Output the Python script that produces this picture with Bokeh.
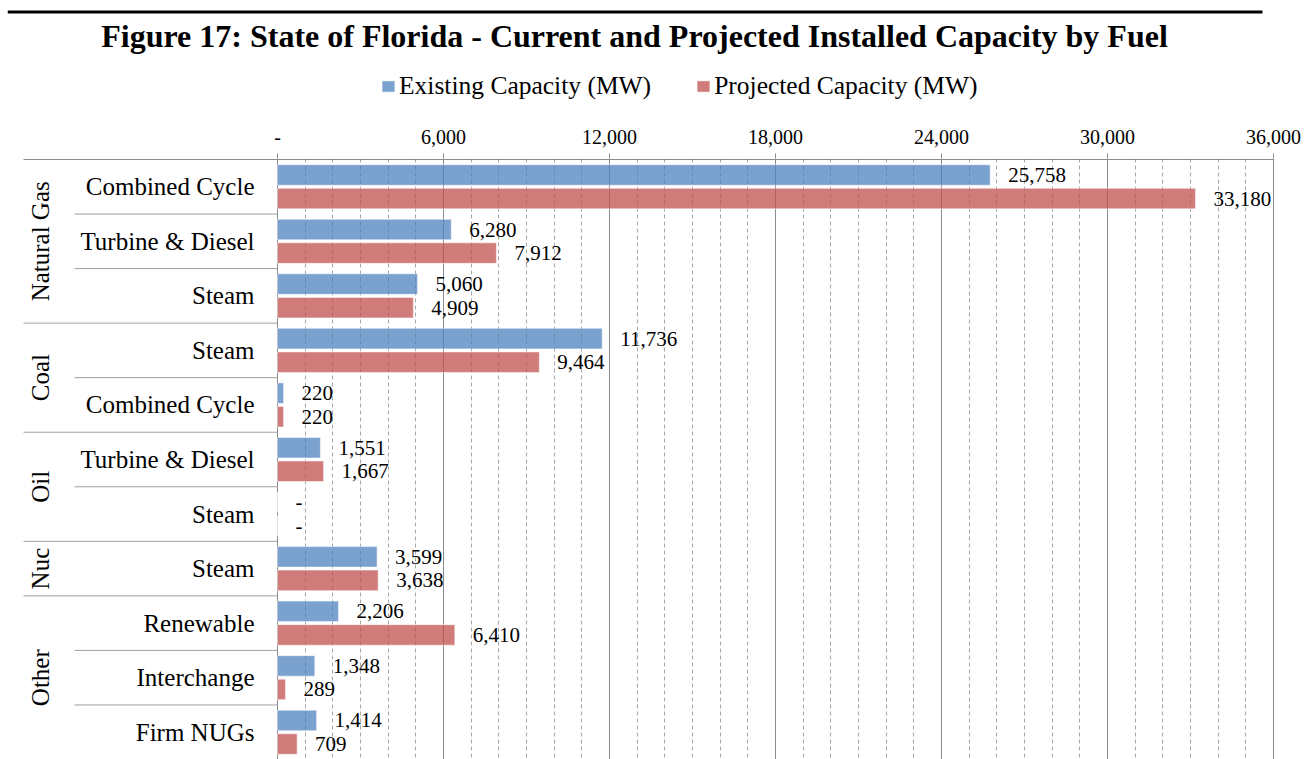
import numpy as np
from bokeh.plotting import figure
from bokeh.layouts import column
from bokeh.models import (ColumnDataSource, Range1d, FixedTicker, LabelSet,
                          Legend, LegendItem)
from bokeh.core.properties import value
from bokeh.embed import file_html
from bokeh.resources import INLINE

# ---------------- data ----------------
groups = ["Natural Gas", "Coal", "Oil", "Nuc", "Other"]
group_sizes = [3, 2, 2, 1, 3]
subcategories = ["Combined Cycle", "Turbine & Diesel", "Steam",
                 "Steam", "Combined Cycle",
                 "Turbine & Diesel", "Steam",
                 "Steam",
                 "Renewable", "Interchange", "Firm NUGs"]
existing = [25758, 6280, 5060, 11736, 220, 1551, 0, 3599, 2206, 1348, 1414]
projected = [33180, 7912, 4909, 9464, 220, 1667, 0, 3638, 6410, 289, 709]
series_names = ["Existing Capacity (MW)", "Projected Capacity (MW)"]
tick_values = [0, 6000, 12000, 18000, 24000, 30000, 36000]
tick_labels = ["-", "6,000", "12,000", "18,000", "24,000", "30,000", "36,000"]
title_text = "Figure 17: State of Florida - Current and Projected Installed Capacity by Fuel"

# ---------------- layout constants (pixels) ----------------
W, H = 1308, 759
TOP_H = 112                 # header figure (title, rule, legend)
AX0, AX1 = 277, 1273        # page x of value 0 and value 36000
FRAME_L, FRAME_R = 7, 1274  # frame extent (page x), shared by both figures
ROW0_Y = 159                # page y of the top of the first row / axis line
FRAME_T = ROW0_Y - 1
XMAX = 36000
XPX = XMAX / (AX1 - AX0)    # data units per pixel
NROWS = len(subcategories)
YPX = NROWS / (H - ROW0_Y)  # row units per pixel

SERIF = "Liberation Serif"
BLUE, RED = "#4F81BD", "#C0504D"
GRID = "#8c8c8c"


def xpage(px):
    """data x for a page pixel column (decorations only)"""
    return (px - AX0) * XPX


pos = np.arange(NROWS) + 0.5
off = 0.216
bar_h = 0.376
src_e = ColumnDataSource(dict(y=pos - off, v=existing,
                              t=[f"{v:,}" if v else "-" for v in existing]))
src_p = ColumnDataSource(dict(y=pos + off, v=projected,
                              t=[f"{v:,}" if v else "-" for v in projected]))
bar_style_e = dict(fill_color=BLUE, fill_alpha=0.75, line_color="white", line_alpha=0.5)
bar_style_p = dict(fill_color=RED, fill_alpha=0.75, line_color="white", line_alpha=0.5)

# ---------------- header figure ----------------
top = figure(width=W, height=TOP_H, output_backend="svg", toolbar_location=None,
             x_range=Range1d(FRAME_L, FRAME_R), y_range=Range1d(TOP_H, 0),
             x_axis_location=None, y_axis_location=None, title=None,
             min_border_left=FRAME_L, min_border_right=W - FRAME_R,
             min_border_top=0, min_border_bottom=0)
top.outline_line_color = None
top.grid.visible = False
top.segment(x0=[7], y0=[11.5], x1=[1262], y1=[11.5], line_color="black", line_width=3)
top.text(x=[634], y=[35], text=[title_text], text_align="center",
         text_baseline="middle", text_font=value(SERIF), text_font_style="bold",
         text_font_size="32px", text_color="black")
# legend keys: same series as the main chart, not drawn in the header itself
k_e = top.hbar(y="y", left=0, right="v", height=bar_h, source=src_e, visible=False, **bar_style_e)
k_p = top.hbar(y="y", left=0, right="v", height=bar_h, source=src_p, visible=False, **bar_style_p)
legend = Legend(items=[LegendItem(label=series_names[0], renderers=[k_e]),
                       LegendItem(label=series_names[1], renderers=[k_p])],
                orientation="horizontal", location=(380 - FRAME_L, 11),
                padding=0, margin=0, spacing=44, label_standoff=3,
                glyph_width=16, glyph_height=14,
                label_text_font=SERIF, label_text_font_size="25.5px",
                label_text_color="black", inactive_fill_alpha=0,
                border_line_color=None, background_fill_alpha=0)
top.add_layout(legend)

# ---------------- main figure ----------------
p = figure(width=W, height=H - TOP_H, output_backend="svg", toolbar_location=None,
           x_range=Range1d(xpage(FRAME_L), xpage(FRAME_R)),
           y_range=Range1d(NROWS, -(ROW0_Y - FRAME_T) * YPX),
           x_axis_location="above", y_axis_location=None, title=None,
           min_border_left=FRAME_L, min_border_right=W - FRAME_R,
           min_border_top=FRAME_T - TOP_H, min_border_bottom=0)
p.outline_line_color = None
p.background_fill_color = "white"
p.border_fill_color = "white"

minor = list(range(0, XMAX + 1, 1000))
ticker = FixedTicker(ticks=tick_values, minor_ticks=minor)
ax = p.xaxis[0]
ax.ticker = ticker
ax.major_label_overrides = {t: l for t, l in zip(tick_values, tick_labels)}
ax.axis_line_color = None
ax.major_tick_line_color = GRID
ax.major_tick_out = 5
ax.major_tick_in = 0
ax.minor_tick_out = 0
ax.minor_tick_in = 0
ax.major_label_text_font = SERIF
ax.major_label_text_font_size = "20px"
ax.major_label_text_color = "black"
ax.major_label_standoff = 10

p.xgrid.ticker = ticker
p.xgrid.grid_line_color = GRID
p.xgrid.minor_grid_line_color = "#a8a8a8"
p.xgrid.minor_grid_line_dash = "4 3"
p.ygrid.visible = False

p.hbar(y="y", left=0, right="v", height=bar_h, source=src_e, **bar_style_e)
p.hbar(y="y", left=0, right="v", height=bar_h, source=src_p, **bar_style_p)

for src in (src_e, src_p):
    p.add_layout(LabelSet(x="v", y="y", text="t", source=src, x_offset=18,
                          text_align="left", text_baseline="middle",
                          text_font=value(SERIF), text_font_size="21px",
                          text_color="black"))

# axis line (top rule of the category table and of the value axis)
p.segment(x0=[xpage(23)], y0=[0], x1=[xpage(AX1)], y1=[0], line_color=GRID, line_width=1)

# category labels
p.text(x=[xpage(254)] * NROWS, y=list(pos), text=subcategories,
       text_align="right", text_baseline="middle", text_font=value(SERIF),
       text_font_size="25px", text_color="black")

# group labels and separators
bounds = list(np.cumsum([0] + group_sizes))
centers = [(a + b) / 2 for a, b in zip(bounds[:-1], bounds[1:])]
p.text(x=[xpage(40)] * len(groups), y=centers, text=groups, angle=np.pi / 2,
       text_align="center", text_baseline="middle", text_font=value(SERIF),
       text_font_size="25px", text_color="black")

sep_rows = list(range(1, NROWS))
sep_x0 = [xpage(23 if r in bounds else 74) for r in sep_rows]
p.segment(x0=sep_x0, y0=sep_rows, x1=[0] * len(sep_rows), y1=sep_rows,
          line_color="#a0a0a0", line_width=1)

layout = column(top, p, spacing=0)
open("out.html", "w").write(file_html(layout, INLINE))
